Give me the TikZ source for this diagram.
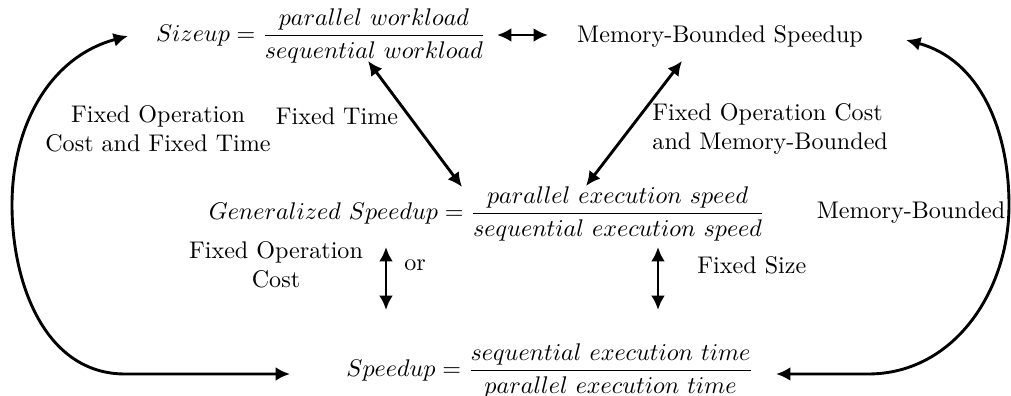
\documentclass[tikz,border=0pt]{standalone}
\usetikzlibrary{arrows.meta}
\begin{document}
\begin{tikzpicture}[x=0.415pt,y=-0.415pt,
  conn/.style={line width=1.2pt,{Latex[length=6pt,width=5.8pt]}-{Latex[length=6pt,width=5.8pt]}},
  eq/.style={inner sep=0pt},
  lbl/.style={inner sep=0pt,align=center},
  lbll/.style={inner sep=0pt,align=left,anchor=west}]
\useasboundingbox (0,0) rectangle (1011,396);
% equations
\node[eq] (sizeup) at (321,36) {$\displaystyle Sizeup = \frac{parallel\ workload}{sequential\ workload}$};
\node[eq] (mbs) at (720,36) {Memory-Bounded Speedup};
\node[eq] (gen) at (487,214) {$\displaystyle Generalized\ Speedup = \frac{parallel\ execution\ speed}{sequential\ execution\ speed}$};
\node[eq] (spd) at (550,371) {$\displaystyle Speedup = \frac{sequential\ execution\ time}{parallel\ execution\ time}$};
% labels
\node[lbl] (l1) at (158,129) {Fixed Operation\\Cost and Fixed Time};
\node[lbl] (l2) at (337,116) {Fixed Time};
\node[lbll] (l3) at (652,129) {Fixed Operation Cost\\and Memory-Bounded};
\node[lbl] (l4) at (911,213) {Memory-Bounded};
\node[lbl] (l5) at (276,265) {Fixed Operation\\Cost};
\node[lbl] (l6) at (415,265) {or};
\node[lbll] (l7) at (697,265) {Fixed Size};
% connector end points
\coordinate (a1) at (497,35); \coordinate (a2) at (548,35);
\coordinate (b1) at (368,61); \coordinate (b2) at (462,187);
\coordinate (c1) at (682,61); \coordinate (c2) at (586,186);
\coordinate (d1) at (386,247); \coordinate (d2) at (386,310);
\coordinate (e1) at (658,247); \coordinate (e2) at (658,310);
\coordinate (lt) at (128,36); \coordinate (lb) at (290,374);
\coordinate (rt) at (906,40); \coordinate (rb) at (776,374);
% connectors
\draw[conn] (a1) -- (a2);
\draw[conn] (b1) -- (b2);
\draw[conn] (c1) -- (c2);
\draw[conn] (d1) -- (d2);
\draw[conn] (e1) -- (e2);
\draw[conn] (lt) to[out=195,in=90] (12,205) to[out=270,in=180] (125,374) -- (lb);
\draw[conn] (rt) to[out=-15,in=90] (1009,205) to[out=270,in=0] (868,374) -- (rb);
\end{tikzpicture}
\end{document}
